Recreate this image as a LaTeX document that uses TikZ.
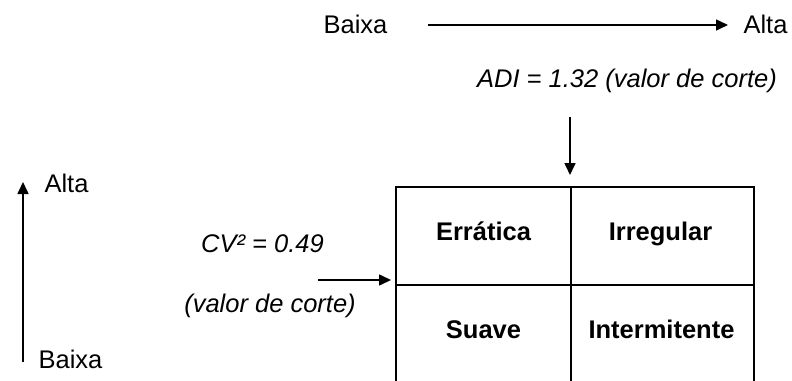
\documentclass[tikz,border=0pt]{standalone}
\usepackage{fontspec}
\setmainfont{Liberation Sans}
\usetikzlibrary{arrows.meta}
\begin{document}
\begin{tikzpicture}[x=1pt,y=-1pt,
  txt/.style={anchor=base,inner sep=0pt,font=\fontsize{25.5}{30}\selectfont},
  itxt/.style={txt,font=\fontsize{25.5}{30}\selectfont\itshape},
  btxt/.style={txt,font=\fontsize{25.5}{30}\selectfont\bfseries},
  cell/.style={draw,line width=1.5pt,minimum width=175pt,minimum height=98pt,inner sep=0pt,anchor=north west},
  axis/.style={line width=1.6pt,-{Triangle[length=12pt,width=11pt]}}]
\useasboundingbox (0,0) rectangle (792,380);

% horizontal scale (ADI)
\node[txt] (lowx) at (355.5,33) {Baixa};
\node[txt] (highx) at (765.5,33) {Alta};
\coordinate (xs) at (428,25);
\coordinate (xe) at (728,25);
\draw[axis] (xs) -- (xe);
\node[itxt] (adi) at (627,87) {ADI = 1.32 (valor de corte)};

% vertical scale (CV²)
\node[txt] (highy) at (66.5,192) {Alta};
\node[txt] (lowy) at (70.5,368) {Baixa};
\coordinate (ys) at (23,362);
\coordinate (ye) at (23,182);
\draw[axis] (ys) -- (ye);
\node[itxt] (cv) at (262.5,252) {CV² = 0.49};
\node[itxt] (cvnote) at (270,312) {(valor de corte)};

% classification grid
\node[cell] (c11) at (395,186) {};
\node[cell,minimum width=183pt] (c12) at (570,186) {};
\node[cell] (c21) at (395,284) {};
\node[cell,minimum width=183pt] (c22) at (570,284) {};

\node[btxt] (erratica) at (483.5,240) {Errática};
\node[btxt] (irregular) at (660.5,240) {Irregular};
\node[btxt] (suave) at (483.5,338) {Suave};
\node[btxt] (intermitente) at (661.5,338) {Intermitente};

% cut-off markers
\coordinate (adiin) at (570,117);
\draw[axis,shorten >=11pt] (adiin) -- (c12.north west);
\coordinate (cvin) at (318,280);
\draw[axis,shorten >=4pt] (cvin) -- ([yshift=4pt]c21.north west);
\end{tikzpicture}
\end{document}
